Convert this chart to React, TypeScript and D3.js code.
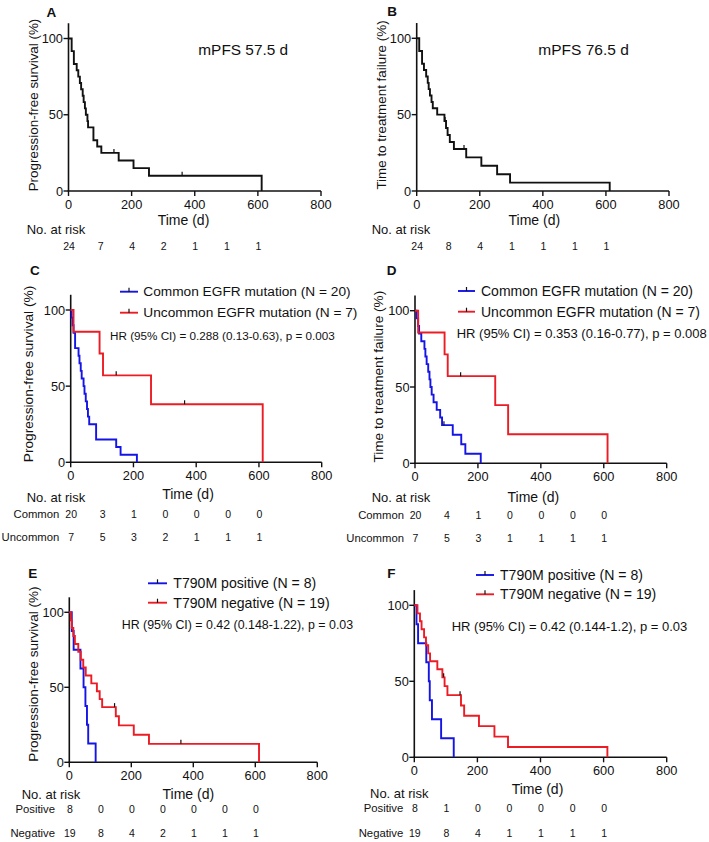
import React from "react";
import * as d3 from "d3";

const FONT = "'Liberation Sans', Arial, Helvetica, sans-serif";
const BLUE = "#1414e6";
const RED = "#ec1c24";
const BLACK = "#111";

// ---------- data ----------
const xTicks = [0, 200, 400, 600, 800];
const yTicks = [0, 50, 100];
const riskTimes = [0, 100, 200, 300, 400, 500, 600];

// Panel A: PFS, all patients (n = 24)
const aTime = [0, 10, 17, 26, 31, 36, 40, 45, 48, 52, 55, 60, 62, 79, 91, 104, 159, 206, 255, 612];
const aSurv = [100, 91.7, 83.3, 79.2, 75, 70.8, 66.7, 62.5, 58.3, 54.2, 50, 45.8, 41.7, 33.3, 29.2, 25, 20, 15, 10, 0];
const aCensT = [144, 360];
const aCensS = [25, 10];
const aRisk = [24, 7, 4, 2, 1, 1, 1];

// Panel B: TTF, all patients (n = 24)
const bTime = [0, 8, 17, 23, 30, 35, 38, 42, 47, 51, 65, 88, 93, 98, 105, 118, 157, 205, 255, 296, 612];
const bSurv = [100, 91.7, 83.3, 79.2, 75, 70.8, 66.7, 62.5, 58.3, 54.2, 50, 45.8, 41.3, 36.7, 32.1, 27.5, 22, 16.5, 11, 5.5, 0];
const bCensT = [90, 150];
const bCensS = [45.8, 27.5];
const bRisk = [24, 8, 4, 1, 1, 1, 1];

// Panel C: PFS, common vs uncommon EGFR
const cComT = [0, 3, 6, 9, 14, 25, 28, 32, 35, 41, 44, 48, 52, 55, 59, 81, 145, 159, 211];
const cComS = [100, 95, 90, 85, 75, 70, 65, 60, 55, 50, 45, 40, 35, 30, 25, 15, 10, 5, 0];
const cUncT = [0, 9, 92, 103, 256, 612];
const cUncS = [100, 85.7, 71.4, 57.1, 38.1, 0];
const cUncCensT = [145, 363];
const cUncCensS = [57.1, 38.1];
const cRiskCom = [20, 3, 1, 0, 0, 0, 0];
const cRiskUnc = [7, 5, 3, 2, 1, 1, 1];

// Panel D: TTF, common vs uncommon EGFR
const dComT = [0, 5, 10, 13, 20, 30, 33, 37, 42, 46, 49, 53, 59, 69, 80, 86, 120, 147, 160, 209];
const dComS = [100, 95, 90, 85, 80, 75, 70, 65, 60, 55, 50, 45, 40, 35, 30, 25, 18.75, 12.5, 6.25, 0];
const dComCensT = [92];
const dComCensS = [25];
const dUncT = [0, 10, 94, 104, 255, 296, 612];
const dUncS = [100, 85.7, 71.4, 57.1, 38.1, 19, 0];
const dUncCensT = [145];
const dUncCensS = [57.1];
const dRiskCom = [20, 4, 1, 0, 0, 0, 0];
const dRiskUnc = [7, 5, 3, 1, 1, 1, 1];

// Panel E: PFS, T790M positive vs negative
const ePosT = [0, 8, 14, 36, 46, 52, 57, 61, 85];
const ePosS = [100, 87.5, 75, 62.5, 50, 37.5, 25, 12.5, 0];
const eNegT = [0, 5, 8, 13, 18, 29, 37, 45, 53, 71, 89, 98, 106, 150, 160, 208, 257, 612];
const eNegS = [100, 94.7, 89.5, 84.2, 78.9, 73.7, 68.4, 63.2, 57.9, 52.6, 47.4, 42.1, 36.8, 30.7, 24.6, 18.4, 12.3, 0];
const eNegCensT = [146, 360];
const eNegCensS = [36.8, 12.3];
const eRiskPos = [8, 0, 0, 0, 0, 0, 0];
const eRiskNeg = [19, 8, 4, 2, 1, 1, 1];

// Panel F: TTF, T790M positive vs negative
const fPosT = [0, 7, 12, 38, 46, 49, 56, 85, 125];
const fPosS = [100, 87.5, 75, 62.5, 50, 37.5, 25, 12.5, 0];
const fNegT = [0, 10, 18, 23, 31, 37, 44, 50, 73, 89, 96, 105, 148, 158, 205, 254, 297, 612];
const fNegS = [100, 94.7, 89.5, 84.2, 78.9, 73.7, 68.4, 63.2, 57.9, 52.6, 46.8, 40.9, 34.1, 27.3, 20.5, 13.6, 6.8, 0];
const fNegCensT = [93, 145];
const fNegCensS = [52.6, 40.9];
const fRiskPos = [8, 1, 0, 0, 0, 0, 0];
const fRiskNeg = [19, 8, 4, 1, 1, 1, 1];

// ---------- components ----------
type Series = { t: number[]; s: number[]; ct?: number[]; cs?: number[]; color: string };
type RiskRow = { label?: string; values: number[]; y: number };
type Legend = { label: string; color: string };

type PanelProps = {
  letter: string;
  letterPos: [number, number];
  box: { x0: number; x1: number; yb: number; yt: number };
  ylabel?: string;
  ylabelPos?: [number, number];
  ylabelSize?: number;
  series: Series[];
  timePos: [number, number];
  noRiskPos: [number, number];
  riskLabelX?: number;
  riskRows: RiskRow[];
  legend?: { x1: number; x2: number; tx: number; ys: number[]; items: Legend[]; size: number };
  note?: { text: string; x: number; y: number; size: number };
};

function Panel(p: PanelProps) {
  const x = d3.scaleLinear().domain([0, 800]).range([p.box.x0, p.box.x1]);
  const y = d3.scaleLinear().domain([0, 100]).range([p.box.yb, p.box.yt]);
  const line = d3
    .line<[number, number]>()
    .x((d) => x(d[0]))
    .y((d) => y(d[1]))
    .curve(d3.curveStepAfter);
  const tickFs = 12.8;
  return (
    <g>
      <text x={p.letterPos[0]} y={p.letterPos[1]} fontSize={13.5} fontWeight="bold" fontFamily={FONT} fill={BLACK}>
        {p.letter}
      </text>
      {/* axes */}
      <line x1={x(0)} x2={x(0)} y1={y(0)} y2={y(110)} stroke={BLACK} strokeWidth={1.6} />
      <line x1={x(0) - 0.8} x2={x(800)} y1={y(0)} y2={y(0)} stroke={BLACK} strokeWidth={1.6} />
      {xTicks.map((t) => (
        <g key={"xt" + t}>
          <line x1={x(t)} x2={x(t)} y1={y(0)} y2={y(0) + 5} stroke={BLACK} strokeWidth={1.4} />
          <text x={x(t)} y={y(0) + 13.5} textAnchor="middle" dominantBaseline="central" fontSize={tickFs} fontFamily={FONT} fill={BLACK}>
            {t}
          </text>
        </g>
      ))}
      {yTicks.map((t) => (
        <g key={"yt" + t}>
          <line x1={x(0) - 5} x2={x(0)} y1={y(t)} y2={y(t)} stroke={BLACK} strokeWidth={1.4} />
          <text x={x(0) - 5.5} y={y(t)} textAnchor="end" dominantBaseline="central" fontSize={tickFs} fontFamily={FONT} fill={BLACK}>
            {t}
          </text>
        </g>
      ))}
      {p.ylabel && p.ylabelPos && (
        <text
          transform={`translate(${p.ylabelPos[0]},${p.ylabelPos[1]}) rotate(-90)`}
          textAnchor="middle"
          dominantBaseline="central"
          fontSize={p.ylabelSize ?? 13.4}
          fontFamily={FONT}
          fill={BLACK}
        >
          {p.ylabel}
        </text>
      )}
      <text x={p.timePos[0]} y={p.timePos[1]} textAnchor="middle" dominantBaseline="central" fontSize={14} fontFamily={FONT} fill={BLACK}>
        Time (d)
      </text>
      {/* curves */}
      {p.series.map((s, i) => (
        <g key={"s" + i}>
          <path
            d={line(s.t.map((t, j) => [t, s.s[j]] as [number, number])) || ""}
            fill="none"
            stroke={s.color}
            strokeWidth={1.9}
            strokeLinejoin="miter"
          />
          {(s.ct || []).map((ct, j) => (
            <line key={"c" + j} x1={x(ct)} x2={x(ct)} y1={y(s.cs![j]) - 4} y2={y(s.cs![j])} stroke={BLACK} strokeWidth={1.2} />
          ))}
        </g>
      ))}
      {/* legend */}
      {p.legend &&
        p.legend.items.map((it, i) => {
          const ly = p.legend!.ys[i];
          const mx = (p.legend!.x1 + p.legend!.x2) / 2;
          return (
            <g key={"lg" + i}>
              <line x1={p.legend!.x1} x2={p.legend!.x2} y1={ly} y2={ly} stroke={it.color} strokeWidth={1.9} />
              <line x1={mx} x2={mx} y1={ly - 4} y2={ly} stroke={BLACK} strokeWidth={1.2} />
              <text x={p.legend!.tx} y={ly} dominantBaseline="central" fontSize={p.legend!.size} fontFamily={FONT} fill={BLACK}>
                {it.label}
              </text>
            </g>
          );
        })}
      {p.note && (
        <text x={p.note.x} y={p.note.y} dominantBaseline="central" fontSize={p.note.size} fontFamily={FONT} fill={BLACK}>
          {p.note.text}
        </text>
      )}
      {/* at risk */}
      <text x={p.noRiskPos[0]} y={p.noRiskPos[1]} dominantBaseline="central" fontSize={13} fontFamily={FONT} fill={BLACK}>
        No. at risk
      </text>
      {p.riskRows.map((r, i) => (
        <g key={"r" + i}>
          {r.label && (
            <text x={p.riskLabelX} y={r.y} textAnchor="end" dominantBaseline="central" fontSize={11.3} fontFamily={FONT} fill={BLACK}>
              {r.label}
            </text>
          )}
          {r.values.map((v, j) => (
            <text key={j} x={x(riskTimes[j]) + 0.5} y={r.y} textAnchor="middle" dominantBaseline="central" fontSize={10.5} fontFamily={FONT} fill={BLACK}>
              {v}
            </text>
          ))}
        </g>
      ))}
    </g>
  );
}

export default function App() {
  return (
    <svg width={709} height={842} viewBox="0 0 709 842" style={{ position: "absolute", left: 0, top: 0, background: "#fff" }}>
      <rect width={709} height={842} fill="#fff" />
      <Panel
        letter="A"
        letterPos={[46.5, 16.8]}
        box={{ x0: 68.5, x1: 321, yb: 191, yt: 38.5 }}
        ylabel="Progression-free survival (%)"
        ylabelPos={[33.3, 105]}
        series={[{ t: aTime, s: aSurv, ct: aCensT, cs: aCensS, color: BLACK }]}
        timePos={[183.5, 220]}
        noRiskPos={[26.7, 229]}
        riskRows={[{ values: aRisk, y: 245.7 }]}
        note={{ text: "mPFS 57.5 d", x: 198.3, y: 49.3, size: 15.4 }}
      />
      <Panel
        letter="B"
        letterPos={[387.3, 16.3]}
        box={{ x0: 416.7, x1: 669, yb: 191, yt: 38.3 }}
        ylabel="Time to treatment failure (%)"
        ylabelPos={[381.7, 105]}
        series={[{ t: bTime, s: bSurv, ct: bCensT, cs: bCensS, color: BLACK }]}
        timePos={[534.3, 220]}
        noRiskPos={[371.7, 229]}
        riskRows={[{ values: bRisk, y: 246 }]}
        note={{ text: "mPFS 76.5 d", x: 538.3, y: 49.3, size: 15.5 }}
      />
      <Panel
        letter="C"
        letterPos={[30, 274.5]}
        box={{ x0: 70.7, x1: 321.7, yb: 462.3, yt: 310 }}
        ylabel="Progression-free survival (%)"
        ylabelPos={[28.5, 374]}
        ylabelSize={13.7}
        series={[
          { t: cComT, s: cComS, color: BLUE },
          { t: cUncT, s: cUncS, ct: cUncCensT, cs: cUncCensS, color: RED },
        ]}
        timePos={[188, 494]}
        noRiskPos={[26.7, 497.7]}
        riskLabelX={59.3}
        riskRows={[
          { label: "Common", values: cRiskCom, y: 514.3 },
          { label: "Uncommon", values: cRiskUnc, y: 536.7 },
        ]}
        legend={{
          x1: 120,
          x2: 138,
          tx: 143.3,
          ys: [291.7, 312.7],
          size: 13.7,
          items: [
            { label: "Common EGFR mutation (N = 20)", color: BLUE },
            { label: "Uncommon EGFR mutation (N = 7)", color: RED },
          ],
        }}
        note={{ text: "HR (95% CI) = 0.288 (0.13-0.63), p = 0.003", x: 110, y: 335, size: 11.7 }}
      />
      <Panel
        letter="D"
        letterPos={[386.7, 275]}
        box={{ x0: 415, x1: 666.7, yb: 463.3, yt: 310.7 }}
        ylabel="Time to treatment failure (%)"
        ylabelPos={[378.3, 376.7]}
        ylabelSize={13.6}
        series={[
          { t: dComT, s: dComS, ct: dComCensT, cs: dComCensS, color: BLUE },
          { t: dUncT, s: dUncS, ct: dUncCensT, cs: dUncCensS, color: RED },
        ]}
        timePos={[533.3, 496.7]}
        noRiskPos={[371.7, 497.7]}
        riskLabelX={404}
        riskRows={[
          { label: "Common", values: dRiskCom, y: 515 },
          { label: "Uncommon", values: dRiskUnc, y: 537.7 },
        ]}
        legend={{
          x1: 458,
          x2: 475,
          tx: 481,
          ys: [291, 311.7],
          size: 14,
          items: [
            { label: "Common EGFR mutation (N = 20)", color: BLUE },
            { label: "Uncommon EGFR mutation (N = 7)", color: RED },
          ],
        }}
        note={{ text: "HR (95% CI) = 0.353 (0.16-0.77), p = 0.008", x: 456.7, y: 333, size: 13 }}
      />
      <Panel
        letter="E"
        letterPos={[28.3, 578.3]}
        box={{ x0: 69.3, x1: 317.3, yb: 762.3, yt: 612.3 }}
        ylabel="Progression-free survival (%)"
        ylabelPos={[33.3, 674]}
        ylabelSize={13.6}
        series={[
          { t: ePosT, s: ePosS, color: BLUE },
          { t: eNegT, s: eNegS, ct: eNegCensT, cs: eNegCensS, color: RED },
        ]}
        timePos={[188.3, 794.3]}
        noRiskPos={[21.7, 794.3]}
        riskLabelX={55}
        riskRows={[
          { label: "Positive", values: eRiskPos, y: 809.3 },
          { label: "Negative", values: eRiskNeg, y: 833.3 },
        ]}
        legend={{
          x1: 148,
          x2: 167,
          tx: 173.3,
          ys: [583.3, 602.7],
          size: 14.1,
          items: [
            { label: "T790M positive (N = 8)", color: BLUE },
            { label: "T790M negative (N = 19)", color: RED },
          ],
        }}
        note={{ text: "HR (95% CI) = 0.42 (0.148-1.22), p = 0.03", x: 121.7, y: 625, size: 12.4 }}
      />
      <Panel
        letter="F"
        letterPos={[387.3, 578.3]}
        box={{ x0: 414.3, x1: 666.7, yb: 757.3, yt: 605.3 }}
        series={[
          { t: fPosT, s: fPosS, color: BLUE },
          { t: fNegT, s: fNegS, ct: fNegCensT, cs: fNegCensS, color: RED },
        ]}
        timePos={[537.5, 789.3]}
        noRiskPos={[370, 793.3]}
        riskLabelX={403.3}
        riskRows={[
          { label: "Positive", values: fRiskPos, y: 808.3 },
          { label: "Negative", values: fRiskNeg, y: 832.7 },
        ]}
        legend={{
          x1: 476,
          x2: 494,
          tx: 500,
          ys: [575, 594.3],
          size: 14.1,
          items: [
            { label: "T790M positive (N = 8)", color: BLUE },
            { label: "T790M negative (N = 19)", color: RED },
          ],
        }}
        note={{ text: "HR (95% CI) = 0.42 (0.144-1.2), p = 0.03", x: 451.7, y: 626, size: 13 }}
      />
    </svg>
  );
}
